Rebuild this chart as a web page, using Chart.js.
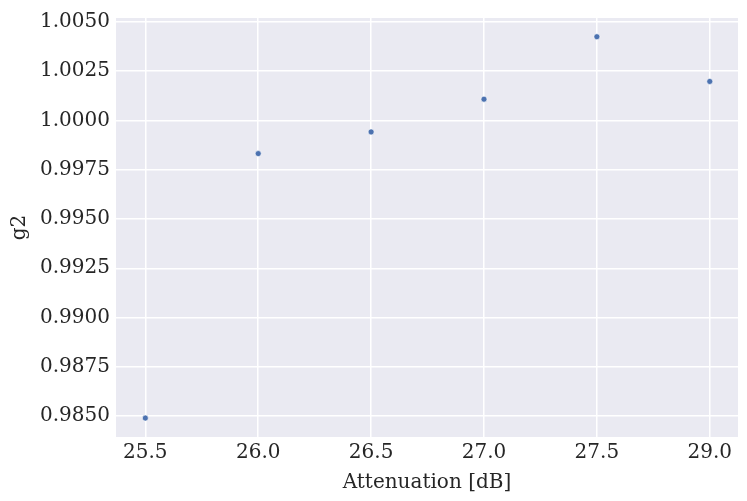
<!DOCTYPE html>
<html>
<head>
<meta charset="utf-8">
<script src="https://cdn.jsdelivr.net/npm/chart.js@4"></script>
<style>
html, body { margin: 0; padding: 0; background: #fff; }
#wrap { width: 747px; height: 501px; }
</style>
</head>
<body>
<div id="wrap"><canvas id="chart"></canvas></div>
<script>
const attenuation = ['25.5', '26.0', '26.5', '27.0', '27.5', '29.0'];
const g2Values = [0.98490, 0.99832, 0.99942, 1.00108, 1.00425, 1.00198];
const yTicks = [0.9850, 0.9875, 0.9900, 0.9925, 0.9950, 0.9975, 1.0000, 1.0025, 1.0050];

const font = { family: 'DejaVu Serif', size: 20 };
const bgPlugin = {
    id: 'plotBg',
    beforeDraw(chart) {
        const a = chart.chartArea, ctx = chart.ctx;
        ctx.save();
        ctx.fillStyle = '#EAEAF2';
        ctx.fillRect(a.left, a.top, a.right - a.left, a.bottom - a.top);
        ctx.restore();
    }
};

// points sit at evenly spaced category positions
new Chart(document.getElementById('chart'), {
    type: 'scatter',
    data: {
        datasets: [{
            data: attenuation.map((x, i) => ({ x: i, y: g2Values[i] })),
            backgroundColor: '#4C72B0',
            borderColor: '#ffffff',
            borderWidth: 0.6,
            pointRadius: 3
        }]
    },
    options: {
        responsive: true,
        maintainAspectRatio: false,
        animation: false,
        layout: { padding: { top: 10, right: 9, left: 4, bottom: 2 } },
        plugins: { legend: { display: false }, tooltip: { enabled: false } },
        scales: {
            x: {
                type: 'linear',
                min: -0.26, max: 5.25,
                afterBuildTicks: s => { s.ticks = attenuation.map((v, i) => ({ value: i })); },
                ticks: {
                    color: '#262626', font: font, padding: 4, maxRotation: 0,
                    callback: (v, i) => attenuation[i]
                },
                grid: { color: '#ffffff', lineWidth: 1.5, drawTicks: false },
                border: { display: false },
                title: { display: true, text: 'Attenuation [dB]', color: '#262626', font: { family: 'DejaVu Serif', size: 20 }, padding: { top: 2 } }
            },
            y: {
                min: 0.98394, max: 1.0052,
                afterBuildTicks: s => { s.ticks = yTicks.map(v => ({ value: v })); },
                ticks: { color: '#262626', font: font, padding: 6, callback: v => v.toFixed(4) },
                grid: { color: '#ffffff', lineWidth: 1.5, drawTicks: false },
                border: { display: false },
                title: { display: true, text: 'g2', color: '#262626', font: { family: 'DejaVu Serif', size: 20 }, padding: { bottom: 2 } }
            }
        }
    },
    plugins: [bgPlugin]
});
</script>
</body>
</html>
